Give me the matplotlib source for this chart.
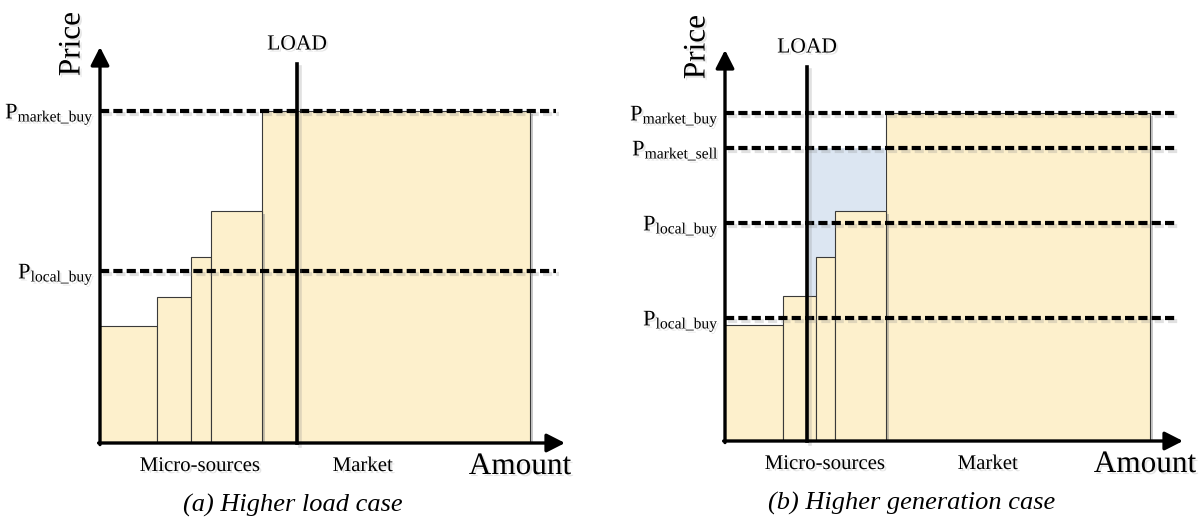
import numpy as np
import matplotlib
matplotlib.use('Agg')
import matplotlib.pyplot as plt
import matplotlib.patheffects as pe

plt.rcParams['font.family'] = 'Liberation Serif'
plt.rcParams['mathtext.fontset'] = 'custom'
plt.rcParams['mathtext.rm'] = 'Liberation Serif'
plt.rcParams['mathtext.it'] = 'Liberation Serif:italic'

# (a) higher load case
widths_a = [5.7, 3.4, 2.0, 5.1]
tops_a = [11.7, 14.6, 18.6, 23.2]
market_w_a = 26.8
market_p_a = 33.2
load_a = 19.7
lines_a = [33.2, 17.2]
labels_a = ['market\\_buy', 'local\\_buy']

# (b) higher generation case
widths_b = [5.8, 3.3, 1.9, 5.1]
tops_b = [11.6, 14.5, 18.4, 23.0]
market_w_b = 26.4
market_p_b = 32.8
load_b = 8.2
lines_b = [32.8, 29.3, 21.8, 12.3]
labels_b = ['market\\_buy', 'market\\_sell', 'local\\_buy', 'local\\_buy']
sell_b = 29.3

W, H = 1201, 523
fill = '#fdf0cc'
blue = '#dce6f2'
edge = '#3a3a3a'

bar_fx = [pe.SimplePatchShadow(offset=(2.5, -2), shadow_rgbFace='#777777', alpha=0.4), pe.Normal()]
line_fx = [pe.SimpleLineShadow(offset=(2, -2), shadow_color='#888888', alpha=0.25), pe.Normal()]
txt_fx = [pe.withSimplePatchShadow(offset=(1.5, -1.5), shadow_rgbFace='#999999', alpha=0.25)]

fig = plt.figure(figsize=(W / 100, H / 100), dpi=100)


def panel(ox, oy, xmax, ymax, widths, tops, mw, mp, load, lines, labels,
          line_end, lab_x, caption, cap_xy, sell=None):
    ax = fig.add_axes([ox / W, (H - oy) / H, xmax * 10 / W, ymax * 10 / H])
    ax.set_xlim(0, xmax)
    ax.set_ylim(0, ymax)
    ax.axis('off')

    edges = np.concatenate([[0], np.cumsum(widths)])
    ax.bar(edges[:-1], tops, width=widths, align='edge', color=fill,
           edgecolor=edge, linewidth=0.8, path_effects=bar_fx, zorder=2)
    ax.bar(edges[-1], mp, width=mw, align='edge', color=fill,
           edgecolor=edge, linewidth=0.8, path_effects=bar_fx, zorder=1)

    # area between supply steps and market sell price, right of the load
    if sell is not None:
        xs = [load] + [e for e in edges[1:] if e > load]
        idx = np.searchsorted(edges, xs, side='right') - 1
        idx = np.clip(idx, 0, len(tops) - 1)
        ys = [tops[i] for i in idx]
        ax.fill_between(xs, ys, sell, step='post', color=blue, lw=0, zorder=1.5)

    for y, lab in zip(lines, labels):
        ax.plot([0, line_end], [y, y], color='black', lw=3,
                linestyle=(0, (2.2, 1.0)), path_effects=line_fx, zorder=4,
                clip_on=False)
        ax.text(lab_x, y - 0.75, r'$\mathrm{P}_{\mathrm{%s}}$' % lab, fontsize=16,
                ha='right', va='baseline', path_effects=txt_fx)

    ax.plot([load, load], [0, ymax - 1.7], color='black', lw=2.6,
            path_effects=line_fx, zorder=5, clip_on=False)
    ax.text(load, ymax + 0.2, 'LOAD', fontsize=15.5, ha='center', va='center',
            path_effects=txt_fx)

    arrow = dict(arrowstyle='-|>,head_length=0.55,head_width=0.28', color='black',
                 lw=2.4, mutation_scale=20, shrinkA=0, shrinkB=0)
    ax.annotate('', xy=(1, 0), xytext=(-0.003, 0), xycoords='axes fraction',
                arrowprops=arrow, zorder=6)
    ax.annotate('', xy=(0, 1), xytext=(0, -0.004), xycoords='axes fraction',
                arrowprops=arrow, zorder=6)

    ax.text(-2.8, ymax + 0.3, 'Price', fontsize=22.5, rotation=90,
            ha='center', va='center', path_effects=txt_fx)
    ax.text(10.0, -2.8, 'Micro-sources', fontsize=15, ha='center', va='baseline',
            path_effects=txt_fx)
    ax.text(26.3, -2.8, 'Market', fontsize=15, ha='center', va='baseline',
            path_effects=txt_fx)
    ax.text(42.0, -3.1, 'Amount', fontsize=22.5, ha='center', va='baseline',
            path_effects=txt_fx)
    fig.text(cap_xy[0] / W, 1 - cap_xy[1] / H, caption, fontsize=19,
             style='italic', ha='center', va='center')
    return ax


panel(100, 443, 46.5, 39.6, widths_a, tops_a, market_w_a, market_p_a, load_a,
      lines_a, labels_a, 45.6, -0.6, '(a) Higher load case', (293, 505))
panel(725, 441, 45.8, 39.1, widths_b, tops_b, market_w_b, market_p_b, load_b,
      lines_b, labels_b, 45.2, -0.6, '(b) Higher generation case', (912, 503),
      sell=sell_b)

fig.savefig('out.png', dpi=100)
